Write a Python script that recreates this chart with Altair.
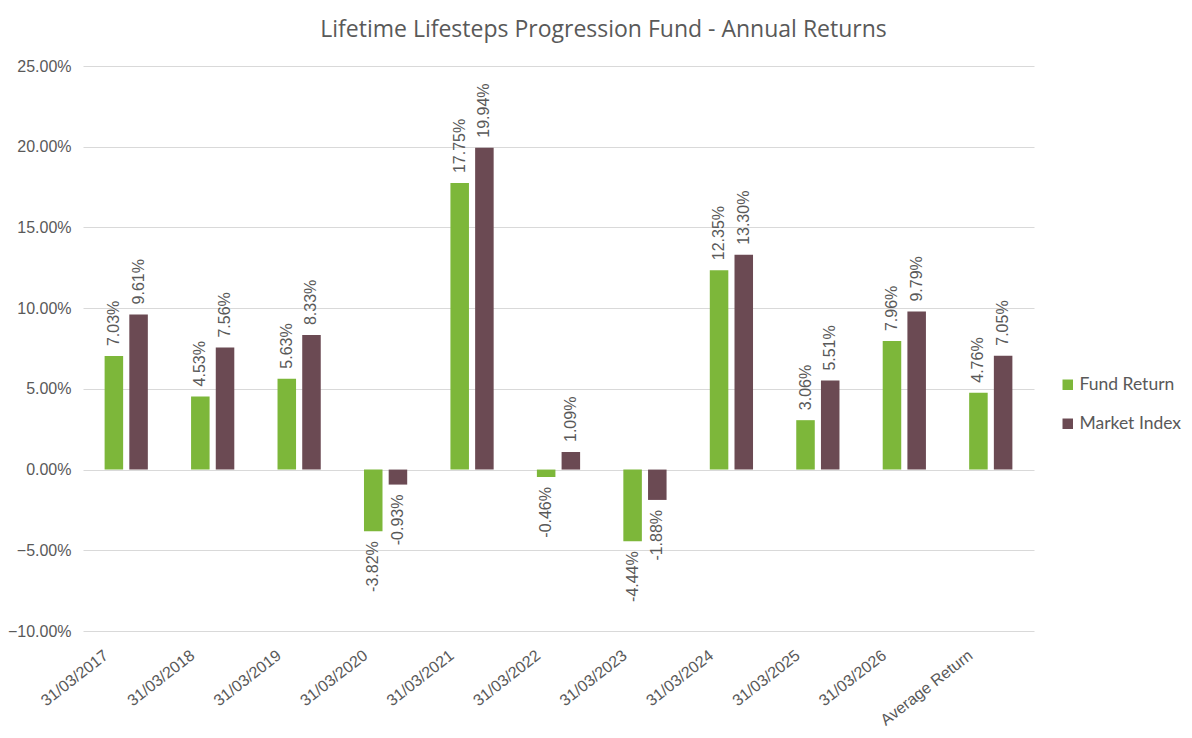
import altair as alt
import pandas as pd

categories = ["31/03/2017", "31/03/2018", "31/03/2019", "31/03/2020", "31/03/2021",
              "31/03/2022", "31/03/2023", "31/03/2024", "31/03/2025", "31/03/2026",
              "Average Return"]
fund_return = [7.03, 4.53, 5.63, -3.82, 17.75, -0.46, -4.44, 12.35, 3.06, 7.96, 4.76]
market_index = [9.61, 7.56, 8.33, -0.93, 19.94, 1.09, -1.88, 13.30, 5.51, 9.79, 7.05]
series_names = ["Fund Return", "Market Index"]
series_colors = ["#7DB73A", "#6B4A53"]

rows = []
for c, f, m in zip(categories, fund_return, market_index):
    rows.append({"category": c, "series": series_names[0], "value": f / 100})
    rows.append({"category": c, "series": series_names[1], "value": m / 100})
df = pd.DataFrame(rows)
df["label"] = df["value"].map(lambda v: f"{v*100:.2f}%")

grey = "#595959"

x_enc = alt.X("category:N", sort=categories, title=None,
              scale=alt.Scale(paddingInner=0.5, paddingOuter=0.25),
              axis=alt.Axis(labelAngle=-38, labelAlign="right", labelBaseline="middle",
                            labelFont="Liberation Sans", labelFontSize=16, labelColor=grey,
                            ticks=False, domain=False, labelPadding=22, labelOffset=-20))
xoff = alt.XOffset("series:N", sort=series_names, scale=alt.Scale(paddingInner=0.25))
y_enc = alt.Y("value:Q", title=None,
              scale=alt.Scale(domain=[-0.10, 0.25], nice=False),
              axis=alt.Axis(format=".2%", values=[-0.10, -0.05, 0, 0.05, 0.10, 0.15, 0.20, 0.25],
                            labelFont="Liberation Sans", labelFontSize=16, labelColor=grey,
                            ticks=False, domain=False, labelPadding=12,
                            gridColor="#D9D9D9", gridWidth=1.2))

base = alt.Chart(df)

bars = base.mark_bar().encode(
    x=x_enc, xOffset=xoff, y=y_enc,
    color=alt.Color("series:N", sort=series_names,
                    scale=alt.Scale(domain=series_names, range=series_colors),
                    legend=alt.Legend(title=None, orient="none", legendX=976, legendY=310,
                                      symbolType="square", symbolSize=110,
                                      labelFont="Lato", labelFontSize=17.5, labelColor=grey,
                                      rowPadding=20, symbolStrokeWidth=0, labelOffset=3)),
)

pos_labels = base.transform_filter("datum.value >= 0").mark_text(
    angle=270, align="left", baseline="middle", dx=10,
    font="Liberation Sans", fontSize=16, color=grey
).encode(x=alt.X("category:N", sort=categories), xOffset=xoff, y="value:Q", text="label:N")

neg_labels = base.transform_filter("datum.value < 0").mark_text(
    angle=270, align="right", baseline="middle", dx=-10,
    font="Liberation Sans", fontSize=16, color=grey
).encode(x=alt.X("category:N", sort=categories), xOffset=xoff, y="value:Q", text="label:N")

chart = alt.layer(bars, pos_labels, neg_labels).properties(
    width=951, height=565,
    autosize=alt.AutoSizeParams(type="none"),
    padding={"left": 75, "top": 58, "right": 150, "bottom": 99},
    title=alt.TitleParams("Lifetime Lifesteps Progression Fund - Annual Returns",
                          font="Open Sans", fontSize=23, fontWeight="normal", color=grey,
                          anchor="middle", dx=45, offset=16),
).configure_view(stroke=None)

chart.save("out.html", embed_options={"renderer": "svg", "actions": False})
